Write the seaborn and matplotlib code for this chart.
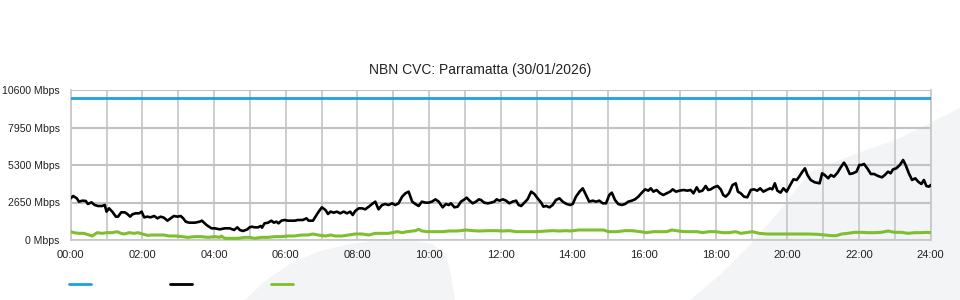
import numpy as np
import pandas as pd
import matplotlib
matplotlib.use("Agg")
import matplotlib.pyplot as plt
from matplotlib.patches import Polygon
from matplotlib.lines import Line2D
from matplotlib.ticker import MultipleLocator
import seaborn as sns

sns.set_style("white")
plt.rcParams['font.family'] = ['Liberation Sans', 'DejaVu Sans']

title = "NBN CVC: Parramatta (30/01/2026)"

capacity_hours = [0.0, 24.0]
capacity_mbps = [10000, 10000]

black_hours = [0.00,0.07,0.17,0.23,0.33,0.42,0.48,0.58,0.67,0.76,0.88,0.95,1.00,1.07,1.16,1.26,1.32,1.41,1.51,1.58,
    1.66,1.72,1.81,1.91,1.98,2.05,2.14,2.23,2.33,2.42,2.51,2.60,2.70,2.79,2.88,2.98,3.07,3.14,3.21,3.30,
    3.47,3.60,3.66,3.79,3.93,4.02,4.16,4.30,4.44,4.56,4.65,4.72,4.81,4.93,4.99,5.06,5.13,5.23,5.30,5.34,
    5.41,5.51,5.60,5.67,5.74,5.80,5.88,5.97,6.06,6.16,6.25,6.34,6.48,6.58,6.64,6.76,6.83,6.92,7.01,7.11,
    7.18,7.25,7.34,7.43,7.52,7.62,7.71,7.80,7.87,7.94,8.04,8.13,8.22,8.32,8.41,8.50,8.59,8.69,8.78,8.87,
    8.97,9.06,9.15,9.25,9.34,9.43,9.53,9.62,9.71,9.80,9.90,9.99,10.08,10.18,10.27,10.38,10.47,10.55,10.61,10.71,
    10.80,10.89,10.99,11.05,11.13,11.22,11.31,11.39,11.45,11.54,11.64,11.73,11.82,11.89,11.96,12.06,12.15,12.24,12.33,12.43,
    12.50,12.57,12.66,12.75,12.85,12.94,13.03,13.13,13.19,13.27,13.36,13.45,13.54,13.64,13.73,13.84,13.94,14.01,14.10,14.20,
    14.29,14.38,14.47,14.57,14.66,14.75,14.85,14.94,15.03,15.10,15.19,15.28,15.38,15.47,15.56,15.66,15.75,15.84,15.94,16.03,
    16.12,16.19,16.26,16.35,16.45,16.54,16.63,16.73,16.80,16.89,16.99,17.10,17.21,17.30,17.38,17.47,17.54,17.63,17.72,17.79,
    17.86,17.95,18.05,18.14,18.21,18.28,18.37,18.47,18.56,18.62,18.70,18.79,18.88,18.98,19.07,19.16,19.24,19.33,19.42,19.52,
    19.58,19.65,19.72,19.81,19.89,19.98,20.08,20.17,20.26,20.33,20.42,20.49,20.56,20.65,20.76,20.90,20.97,21.04,21.14,21.21,
    21.30,21.40,21.49,21.58,21.65,21.74,21.83,21.93,22.01,22.07,22.14,22.23,22.33,22.42,22.53,22.64,22.72,22.81,22.88,22.95,
    23.04,23.14,23.23,23.30,23.39,23.48,23.57,23.65,23.74,23.81,23.88,23.95,24.00]
black_mbps = [2945,3110,2945,2709,2780,2757,2544,2662,2474,2403,2403,2474,2003,2238,2003,1649,1649,1955,1955,1838,
    1649,1814,1885,1885,2003,1602,1649,1602,1696,1531,1649,1578,1366,1531,1696,1649,1696,1531,1296,1225,
    1225,1296,1366,1060,825,825,754,825,825,707,895,707,636,754,895,942,895,895,990,872,
    1178,1225,1366,1225,1296,1178,1366,1414,1366,1366,1366,1414,1414,1531,1366,1366,1649,2003,2309,2120,
    1838,2003,1932,2003,1885,2003,1885,2003,1767,2050,2238,2238,2168,2356,2544,2709,2168,2474,2544,2474,
    2592,2474,2592,3063,3298,3416,2709,2544,2403,2709,2639,2639,2709,2874,2709,2309,2544,2474,2592,2309,
    2356,2709,2874,2992,2780,2592,2709,2874,2827,2639,2592,2639,2709,2874,2780,2874,2780,2592,2709,2780,
    2474,2403,2639,2874,3416,3251,2945,2639,2356,2403,2309,2474,2827,2945,2709,2544,2474,2544,3063,3416,
    3652,3181,2709,2780,2709,2780,2592,2592,3181,3346,2827,2544,2474,2544,2709,2780,2874,3063,3346,3581,
    3487,3652,3416,3534,3298,3181,3298,3416,3581,3416,3487,3534,3487,3534,3298,3722,3416,3487,3817,3534,
    3581,3722,3817,3581,3181,3063,3298,3887,4005,3416,3298,3063,3016,3534,3581,3487,3652,3416,3534,3652,
    3581,4005,3487,3346,3652,3416,3887,4288,4241,4476,4830,5065,4594,4241,4080,4005,4712,4594,4359,4594,
    4476,4759,5136,5466,5183,4665,4712,4830,5301,5301,5372,5065,4665,4665,4524,4429,4594,4830,4712,4995,
    5065,5301,5654,5301,4712,4241,4359,4123,3958,4241,3817,3770,3887]

green_hours = [0.00,0.09,0.23,0.37,0.51,0.60,0.74,0.88,1.02,1.16,1.30,1.40,1.49,1.63,1.77,1.88,2.00,2.14,2.28,2.47,
    2.60,2.74,2.93,3.12,3.26,3.46,3.65,3.83,4.02,4.16,4.20,4.30,4.48,4.67,4.86,4.99,5.13,5.32,5.51,5.69,
    5.88,6.07,6.25,6.44,6.62,6.76,6.90,7.11,7.25,7.39,7.57,7.76,7.94,8.13,8.32,8.50,8.69,8.87,8.97,9.11,
    9.25,9.39,9.53,9.62,9.71,9.80,9.94,10.13,10.38,10.57,10.75,10.89,11.03,11.22,11.40,11.68,11.87,12.06,12.24,12.43,
    12.71,12.99,13.27,13.45,13.64,13.82,13.94,14.17,14.40,14.63,14.87,15.01,15.24,15.47,15.66,15.89,16.07,16.26,16.45,16.63,
    16.77,16.96,17.14,17.30,17.49,17.63,17.81,18.00,18.19,18.37,18.56,18.70,18.84,19.02,19.21,19.44,19.72,20.00,20.28,20.56,
    20.86,21.04,21.23,21.37,21.51,21.69,21.88,22.07,22.25,22.44,22.62,22.81,22.99,23.18,23.37,23.55,23.74,23.88,24.00]
green_mbps = [589,518,471,471,353,283,518,471,518,518,589,471,424,518,471,518,424,330,353,353,
    353,283,283,236,188,236,236,188,236,188,283,118,118,118,188,188,118,188,188,236,
    236,283,283,353,353,424,353,283,353,283,283,353,424,424,353,471,471,471,518,589,
    518,589,636,660,754,636,589,589,589,636,636,660,707,660,636,660,660,636,660,589,
    589,589,636,660,636,660,636,707,707,707,707,589,589,660,660,589,518,589,589,589,
    707,636,589,589,589,518,589,589,518,518,589,471,518,589,471,424,424,424,424,424,
    400,353,306,306,424,471,542,542,518,518,542,636,542,542,471,518,518,542,518]

y_ticks = [0, 2650, 5300, 7950, 10600]
x_tick_hours = list(range(0, 25, 2))
x_tick_labels = [f"{h:02d}:00" for h in x_tick_hours]

W, H = 960, 300
fig = plt.figure(figsize=(W / 100, H / 100), dpi=100)
fig.patch.set_facecolor("white")

# background watermark shapes on a full-figure background axes (pixel coords, y from top)
bg = fig.add_axes([0, 0, 1, 1], zorder=0)
bg.set_xlim(0, W)
bg.set_ylim(H, 0)
bg.axis("off")
wm = "#f3f4f6"
right_shape = [(690, 300), (720, 275), (750, 245), (780, 210), (810, 172), (850, 156),
               (900, 138), (960, 108), (960, 300)]
left_shape = [(245, 300), (265, 281), (290, 264), (320, 251), (350, 244), (380, 240),
              (410, 240), (432, 244), (446, 254), (451, 275), (455, 300)]
for shape in (right_shape, left_shape):
    bg.add_patch(Polygon(shape, closed=True, facecolor=wm, edgecolor="none"))

ax = fig.add_axes([70.7 / W, 60 / H, 860 / W, 150 / H], zorder=1)
ax.set_facecolor("none")

cap_df = pd.DataFrame({"hour": capacity_hours, "mbps": capacity_mbps})
blk_df = pd.DataFrame({"hour": black_hours, "mbps": black_mbps})
grn_df = pd.DataFrame({"hour": green_hours, "mbps": green_mbps})

blue = "#1ba1e2"
green = "#7dbf2e"
sns.lineplot(data=cap_df, x="hour", y="mbps", ax=ax, color=blue, lw=2, zorder=3)
sns.lineplot(data=blk_df, x="hour", y="mbps", ax=ax, color="black", lw=1.9, zorder=4)
sns.lineplot(data=grn_df, x="hour", y="mbps", ax=ax, color=green, lw=2.2, zorder=3)

ax.set_xlim(0, 24)
ax.set_ylim(0, 10600)
ax.set_xticks(x_tick_hours)
ax.set_xticklabels(x_tick_labels)
ax.xaxis.set_minor_locator(MultipleLocator(1))
ax.set_yticks(y_ticks)
ax.set_yticklabels([f"{v} Mbps" for v in y_ticks])
ax.set_xlabel("")
ax.set_ylabel("")
ax.tick_params(axis="x", which="both", length=0, labelsize=8, colors="#222222", pad=7)
ax.tick_params(axis="y", which="both", length=0, labelsize=7.6, colors="#222222", pad=8)

gc = "#c9c9c9"
ax.grid(True, which="both", axis="x", color=gc, lw=1.3)
ax.grid(True, which="major", axis="y", color="#c2c2c2", lw=1.5)
for s in ("left", "right", "bottom"):
    ax.spines[s].set_color(gc)
    ax.spines[s].set_linewidth(1.3)
ax.spines["top"].set_visible(False)
ax.set_axisbelow(True)

fig.text(0.5, 1 - 70 / H, title, ha="center", va="center", fontsize=10, color="#222222")

handles = [Line2D([], [], color=c, lw=2) for c in (blue, "black", green)]
fig.legend(handles, [" ", " ", " "], loc="center left", bbox_to_anchor=(69 / W, 1 - 285 / H),
           ncol=3, frameon=False, fontsize=8, handlelength=2.0, handletextpad=0.0,
           columnspacing=6.8, borderpad=0, borderaxespad=0)

fig.savefig("out.png", dpi=100)
